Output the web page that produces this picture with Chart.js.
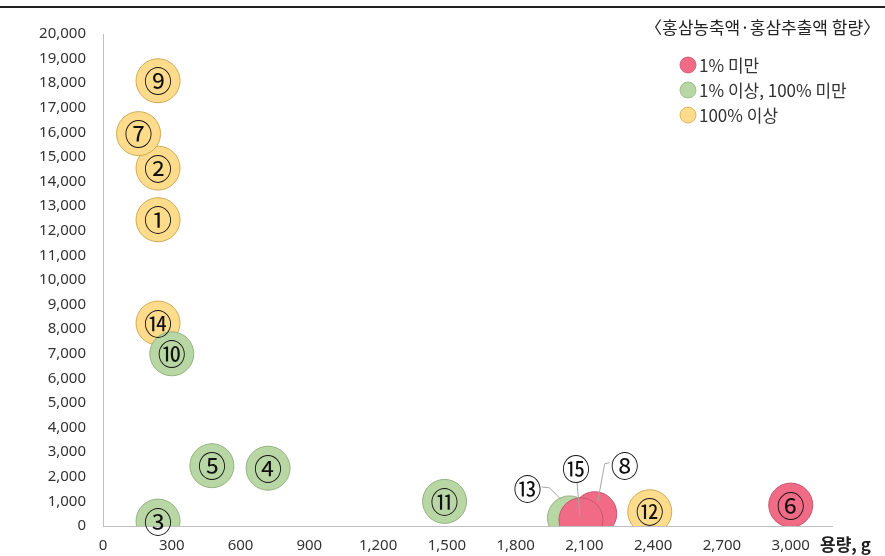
<!DOCTYPE html>
<html>
<head>
<meta charset="utf-8">
<script src="https://cdn.jsdelivr.net/npm/chart.js@4/dist/chart.umd.min.js"></script>
<style>
  html, body { margin: 0; padding: 0; background: #fff; }
  #wrap { width: 885px; height: 556px; position: relative; }
</style>
</head>
<body>
<div id="wrap"><canvas id="bubbleChart"></canvas></div>
<script>
// groups (홍삼농축액·홍삼추출액 함량)
const groupNames = ["1% 미만", "1% 이상, 100% 미만", "100% 이상"];

// under 1%
const lowIds = ["⑥", "⑧", "⑮"];
const lowX = [3000, 2145, 2085];
const lowY = [850, 500, 250];

// 1% ~ 100%
const midIds = ["③", "④", "⑤", "⑩", "⑪", "⑬"];
const midX = [240, 720, 475, 300, 1490, 2035];
const midY = [200, 2350, 2450, 7000, 1000, 330];

// 100% and more
const highIds = ["①", "②", "⑦", "⑨", "⑭", "⑫"];
const highX = [240, 240, 155, 240, 240, 2385];
const highY = [12450, 14550, 15950, 18100, 8250, 580];

const xTicks = [0, 300, 600, 900, 1200, 1500, 1800, 2100, 2400, 2700, 3000];
const xTitle = "용량, g";
const legendTitle = "〈홍삼농축액·홍삼추출액 함량〉";

function points(xs, ys, ids) {
  return xs.map((x, i) => ({ x: x, y: ys[i], id: ids[i] }));
}

const fills = ["#F26B86", "#B9D7A5", "#FFDC8C"];
const borders = ["#C4586F", "#93B27F", "#CFAA55"];

const numFont = '"Noto Sans CJK KR", "DejaVu Sans", sans-serif';
const tickFont = { family: '"Noto Sans", "Noto Sans CJK KR", sans-serif', size: 15 };

const decorations = {
  id: "decorations",
  afterDraw(chart) {
    const ctx = chart.ctx;
    ctx.save();
    // top rule
    ctx.strokeStyle = "#222";
    ctx.lineWidth = 2;
    ctx.beginPath();
    ctx.moveTo(0, 7);
    ctx.lineTo(885, 7);
    ctx.stroke();

    // numbers on the bubbles
    ctx.textAlign = "center";
    ctx.textBaseline = "middle";
    ctx.font = "28px " + numFont;
    chart.data.datasets.forEach((ds, di) => {
      const meta = chart.getDatasetMeta(di);
      meta.data.forEach((el, i) => {
        const id = ds.data[i].id;
        let x = el.x, y = el.y;
        if (id === "⑬") {
          drawLeader(ctx, [[x - 28, y - 31], [x - 20, y - 30], [x - 9, y - 19]]);
          x -= 42; y -= 30;
        } else if (id === "⑮") {
          drawLeader(ctx, [[x - 4, y - 38], [x - 1, y - 3]]);
          x -= 5; y -= 51;
        } else if (id === "⑧") {
          drawLeader(ctx, [[x + 15, y - 51], [x + 10, y - 50], [x + 3, y - 12]]);
          x += 30; y -= 48;
        }
        ctx.fillStyle = "#111";
        ctx.fillText(id, x, y + 1);
      });
    });

    // legend
    ctx.textAlign = "left";
    ctx.fillStyle = "#222";
    ctx.font = "17px " + numFont;
    ctx.fillText(legendTitle, 645, 28);
    groupNames.forEach((name, i) => {
      const cy = 65 + i * 25;
      ctx.beginPath();
      ctx.arc(688, cy, 8, 0, Math.PI * 2);
      ctx.fillStyle = fills[i];
      ctx.fill();
      ctx.strokeStyle = borders[i];
      ctx.lineWidth = 0.8;
      ctx.stroke();
      ctx.fillStyle = "#333";
      ctx.fillText(name, 699, cy + 1);
    });

    // x axis title
    ctx.font = "bold 17px " + numFont;
    ctx.fillStyle = "#222";
    ctx.fillText(xTitle, 820, 545);
    ctx.restore();
  }
};

function drawLeader(ctx, pts) {
  ctx.save();
  ctx.strokeStyle = "#a6a6a6";
  ctx.lineWidth = 1;
  ctx.beginPath();
  pts.forEach((p, i) => (i ? ctx.lineTo(p[0], p[1]) : ctx.moveTo(p[0], p[1])));
  ctx.stroke();
  ctx.restore();
}

const groupData = [
  points(lowX, lowY, lowIds),
  points(midX, midY, midIds),
  points(highX, highY, highIds)
];

new Chart(document.getElementById("bubbleChart"), {
  type: "bubble",
  data: {
    datasets: groupNames.map((name, i) => ({
      label: name,
      data: groupData[i],
      radius: 22,
      backgroundColor: fills[i],
      borderColor: borders[i],
      borderWidth: 1
    }))
  },
  options: {
    responsive: true,
    maintainAspectRatio: false,
    animation: false,
    events: [],
    layout: { padding: { top: 34, right: 53, left: 0, bottom: 0 } },
    plugins: { legend: { display: false }, tooltip: { enabled: false } },
    scales: {
      x: {
        type: "linear",
        min: 0,
        max: 3180,
        grid: { display: false, drawTicks: false },
        border: { display: true, color: "#bfbfbf", width: 1 },
        afterBuildTicks: (scale) => { scale.ticks = xTicks.map((v) => ({ value: v })); },
        afterFit: (scale) => { scale.height = 30; },
        ticks: {
          padding: 11,
          color: "#333",
          font: tickFont,
          callback: (v) => v.toLocaleString("en-US")
        }
      },
      y: {
        min: 0,
        max: 20000,
        grid: { display: false, drawTicks: false },
        border: { display: true, color: "#bfbfbf", width: 1 },
        afterFit: (scale) => { scale.width = 103; },
        ticks: {
          stepSize: 1000,
          padding: 17,
          color: "#333",
          font: tickFont,
          callback: (v) => v.toLocaleString("en-US")
        }
      }
    }
  },
  plugins: [decorations]
});
</script>
</body>
</html>
